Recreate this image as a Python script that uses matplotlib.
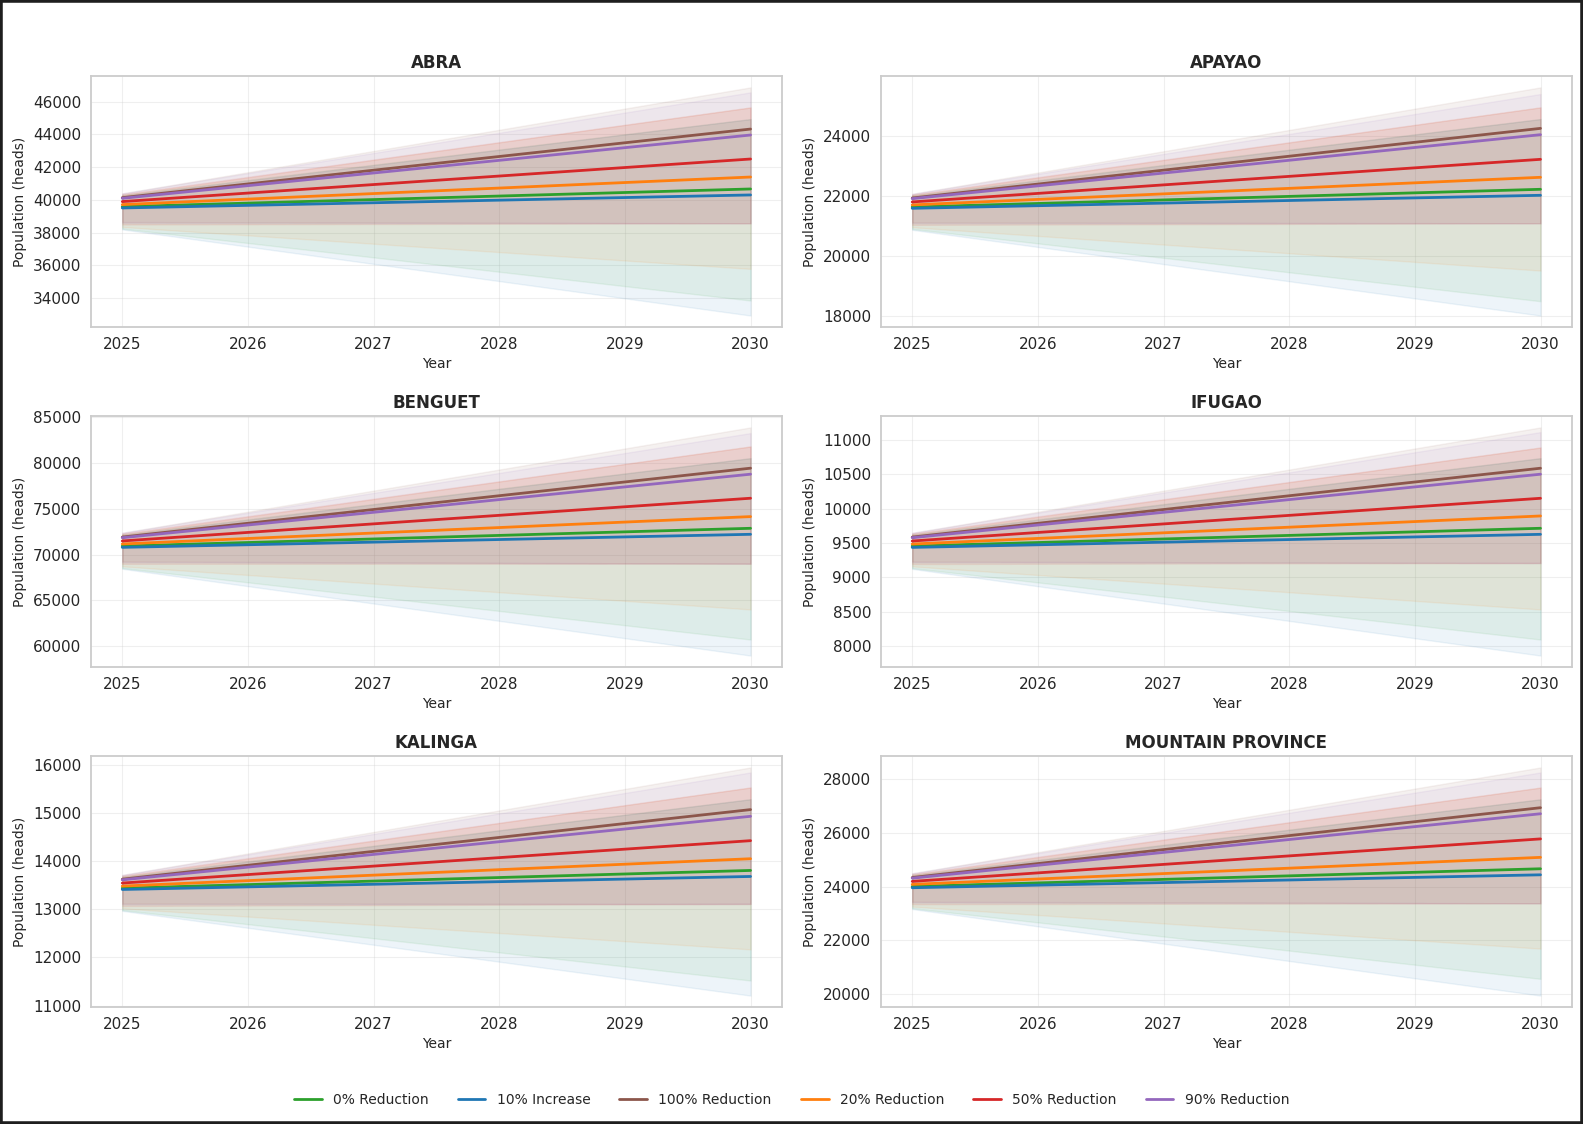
import matplotlib
matplotlib.use('Agg')
import matplotlib.pyplot as plt
import seaborn as sns
from matplotlib.patches import Rectangle

sns.set_style('whitegrid')
plt.rcParams['font.family'] = ['DejaVu Sans']

# ---------------- data ----------------
years = [2025, 2030]
scenarios = ['0% Reduction', '10% Increase', '100% Reduction',
             '20% Reduction', '50% Reduction', '90% Reduction']
colors = ['#2ca02c', '#1f77b4', '#8c564b', '#ff7f0e', '#d62728', '#9467bd']
provinces = ['ABRA', 'APAYAO', 'BENGUET', 'IFUGAO', 'KALINGA', 'MOUNTAIN PROVINCE']

# each entry: [value 2025, value 2030], same order as scenarios
abra_mean = [[39590, 40670], [39510, 40305], [40140, 44330],
             [39715, 41400], [39900, 42500], [40100, 43966]]
abra_lo = [[38250, 33857], [38200, 32940], [38650, 38575],
           [38350, 35790], [38500, 38575], [38600, 38575]]
abra_hi = [[40300, 44940], [40250, 44940], [40400, 46875],
           [40300, 45650], [40350, 45650], [40400, 46570]]

apayao_mean = [[21620, 22211], [21577, 22011], [21920, 24244],
               [21690, 22611], [21790, 23211], [21900, 24033]]
apayao_lo = [[20890, 18478], [20860, 18000], [21105, 21078],
             [20945, 19500], [21025, 21078], [21080, 21078]]
apayao_hi = [[22010, 24555], [21980, 24555], [22060, 25611],
             [22010, 24944], [22035, 24944], [22060, 25389]]

benguet_mean = [[70940, 72883], [70800, 72226], [71925, 79452],
                [71170, 74161], [71500, 76168], [71855, 78795]]
benguet_lo = [[68540, 60730], [68460, 58978], [69255, 69015],
              [68725, 64015], [69000, 69015], [69170, 69015]]
benguet_hi = [[72215, 80547], [72125, 80547], [72395, 83905],
              [72215, 81825], [72310, 81825], [72395, 83285]]

ifugao_mean = [[9455, 9714], [9436, 9626], [9586, 10587],
               [9485, 9893], [9529, 10150], [9577, 10500]]
ifugao_lo = [[9135, 8097], [9124, 7864], [9230, 9209],
             [9160, 8534], [9195, 9209], [9219, 9209]]
ifugao_hi = [[9625, 10733], [9612, 10733], [9648, 11180],
             [9625, 10888], [9637, 10888], [9648, 11112]]

kalinga_mean = [[13438, 13806], [13411, 13681], [13624, 15069],
                [13481, 14049], [13544, 14424], [13611, 14930]]
kalinga_lo = [[12983, 11521], [12967, 11208], [13119, 13111],
              [13018, 12167], [13069, 13111], [13102, 13111]]
kalinga_hi = [[13679, 15285], [13662, 15285], [13713, 15944],
              [13679, 15528], [13697, 15528], [13713, 15840]]

mountain_mean = [[24003, 24662], [23955, 24437], [24336, 26937],
                 [24080, 25087], [24192, 25775], [24312, 26712]]
mountain_lo = [[23191, 20562], [23162, 19937], [23433, 23375],
               [23253, 21687], [23344, 23375], [23404, 23375]]
mountain_hi = [[24435, 27250], [24403, 27250], [24494, 28437],
               [24435, 27687], [24465, 27687], [24494, 28250]]

means = [abra_mean, apayao_mean, benguet_mean, ifugao_mean, kalinga_mean, mountain_mean]
lows = [abra_lo, apayao_lo, benguet_lo, ifugao_lo, kalinga_lo, mountain_lo]
highs = [abra_hi, apayao_hi, benguet_hi, ifugao_hi, kalinga_hi, mountain_hi]

# ---------------- plot ----------------
fig, axes = plt.subplots(3, 2, figsize=(15.83, 11.24), dpi=100)
fig.subplots_adjust(left=0.0574, right=0.993, top=0.9324, bottom=0.1041,
                    wspace=0.143, hspace=0.355)

for ax, name, m, lo, hi in zip(axes.flat, provinces, means, lows, highs):
    for i, sc in enumerate(scenarios):
        ax.fill_between(years, lo[i], hi[i], color=colors[i], alpha=0.08)
        ax.plot(years, m[i], color=colors[i], linewidth=2, label=sc)
    ax.set_title(name, fontsize=12, fontweight='bold')
    ax.set_xlabel('Year', fontsize=10)
    ax.set_ylabel('Population (heads)', fontsize=10)
    ax.set_xticks(range(2025, 2031))
    ax.tick_params(labelsize=11)
    ax.grid(True, alpha=0.3)
    for sp in ax.spines.values():
        sp.set_color('#cccccc')
        sp.set_linewidth(1.3)

handles, labels = axes.flat[0].get_legend_handles_labels()
fig.legend(handles, labels, loc='center', bbox_to_anchor=(0.5, 0.0214),
           ncol=6, frameon=False, fontsize=10, columnspacing=2.1)

# dark frame around the figure
fig.patches.append(Rectangle((0, 0), 1, 1, transform=fig.transFigure,
                             fill=False, edgecolor='#1e1e1e', linewidth=4))

fig.savefig('out.png', dpi=100)
